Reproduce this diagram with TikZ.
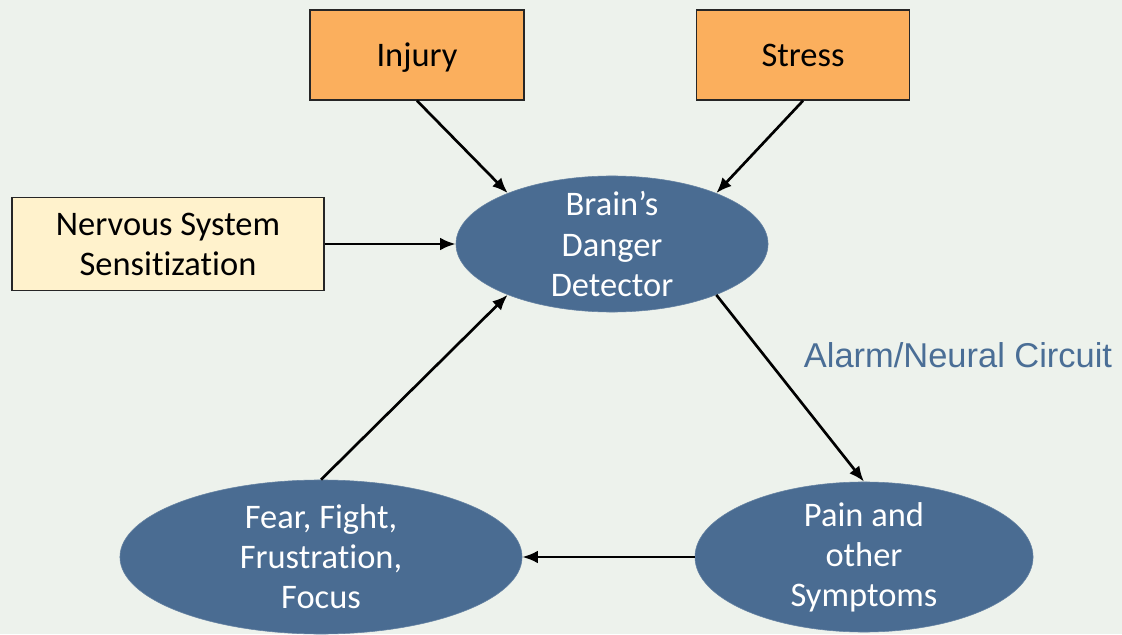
\documentclass[tikz,border=0pt]{standalone}
\usepackage{fontspec}
\setmainfont{Carlito}[Ligatures=NoCommon]
\newfontfamily\arialfont{Liberation Sans}
\usetikzlibrary{positioning,arrows.meta,shapes.geometric}
\definecolor{bgcol}{RGB}{237,242,236}
\definecolor{boxorange}{RGB}{251,175,93}
\definecolor{boxcream}{RGB}{255,242,204}
\definecolor{ovalblue}{RGB}{74,108,146}
\definecolor{labelblue}{RGB}{74,110,150}

\begin{document}
\begin{tikzpicture}[
            x=0.025cm, y=0.025cm,
            block/.style={rectangle, draw=black!85, line width=1pt, align=center, font=\fontsize{24.5}{28.5}\selectfont},
            oval/.style={ellipse, fill=ovalblue, draw=ovalblue!85!white, inner sep=0pt},
            ovaltext/.style={text=white, align=center, font=\fontsize{24.5}{28.5}\selectfont},
            arrow/.style={-{Latex[length=11pt,width=9pt]}, line width=1.9pt}
        ]
        \fill[bgcol] (0,0) rectangle (1122,634);

        \node[block, fill=boxorange, minimum width=5.35cm, minimum height=2.25cm, text height=20pt, text depth=3pt] (injury) at (417,579) {Injury};
        \node[block, fill=boxorange, minimum width=5.33cm, minimum height=2.25cm, text height=20pt, text depth=3pt] (stress) at (803,579) {Stress};
        \node[block, fill=boxcream, minimum width=7.8cm, minimum height=2.33cm] (sens) at (168,390) {Nervous System\\Sensitization};
        \node[oval, minimum width=7.8cm, minimum height=3.4cm,
              label={[ovaltext]center:{Brain’s\\Danger\\Detector}}] (brain) at (612,390) {};
        \node[oval, minimum width=10.05cm, minimum height=3.85cm,
              label={[ovaltext]center:{Fear, Fight,\\Frustration,\\Focus}}] (fear) at (321,77) {};
        \node[oval, minimum width=8.45cm, minimum height=3.75cm,
              label={[ovaltext]center:{Pain and\\other\\Symptoms}}] (pain) at (864,77) {};
        \node[text=labelblue, font=\arialfont\fontsize{24.5}{29}\selectfont] (alarm) at (958,279) {Alarm/Neural Circuit};

        \draw[arrow] (injury.south) -- (brain.154);
        \draw[arrow] (stress.south) -- (brain.26);
        \draw[arrow] (sens.east) -- (brain.west);
        \draw[arrow] (brain.-26) -- (pain.north);
        \draw[arrow] (pain.west) -- (fear.east);
        \draw[arrow] (fear.north) -- (brain.206);
        \end{tikzpicture}
\end{document}
